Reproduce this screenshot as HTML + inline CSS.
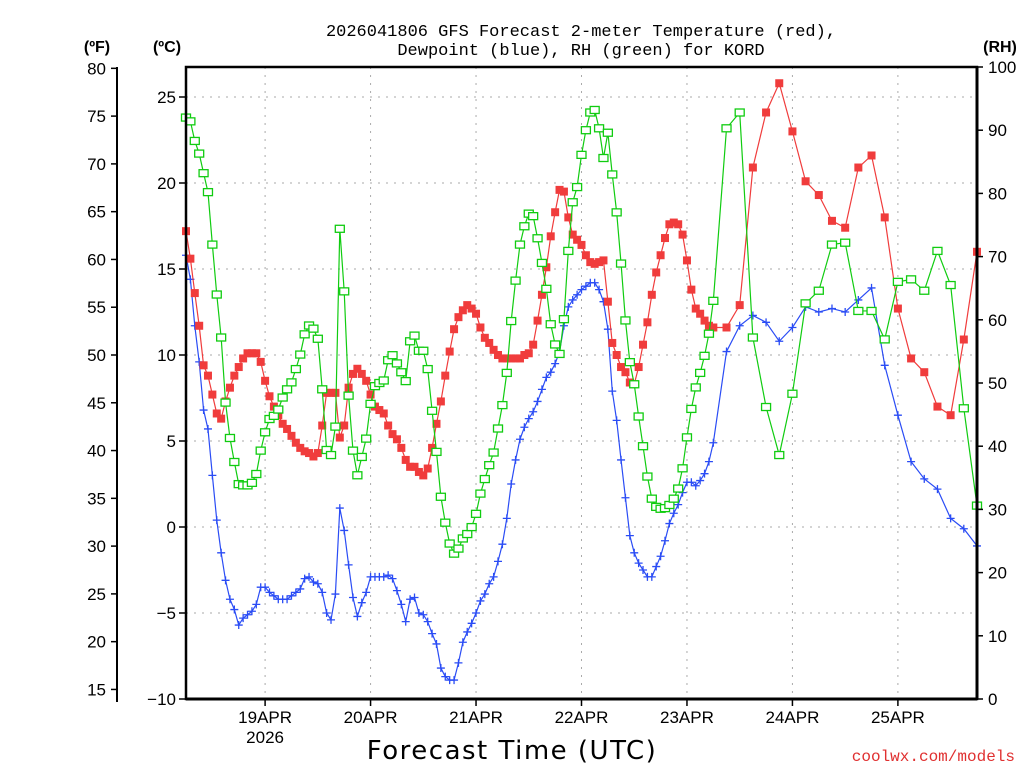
<!DOCTYPE html>
<html><head><meta charset="utf-8"><style>
body{margin:0;background:#fff;}
svg{display:block;font-family:"Liberation Sans",sans-serif;}
</style></head><body>
<svg id="chart" width="1024" height="768" viewBox="0 0 1024 768" xmlns="http://www.w3.org/2000/svg">
<rect width="1024" height="768" fill="#fff"/>
<g id="grid"></g>
<g id="series"></g>
<g id="axes"></g>
<text x="581" y="36" text-anchor="middle" font-family="Liberation Mono, monospace" font-size="17">2026041806 GFS Forecast 2-meter Temperature (red),</text>
<text x="581" y="55" text-anchor="middle" font-family="Liberation Mono, monospace" font-size="17">Dewpoint (blue), RH (green) for KORD</text>
<text x="97" y="52" text-anchor="middle" font-size="16" font-weight="bold">(ºF)</text>
<text x="167" y="52" text-anchor="middle" font-size="16" font-weight="bold">(ºC)</text>
<text x="1000" y="52" text-anchor="middle" font-size="16" font-weight="bold">(RH)</text>
<text x="512" y="759" text-anchor="middle" font-family="DejaVu Sans, sans-serif" font-size="26" letter-spacing="1.5">Forecast Time (UTC)</text>
<text x="1015" y="761" text-anchor="end" font-family="Liberation Mono, monospace" font-size="16" fill="#e03030">coolwx.com/models</text>
</svg>
<script>
const hours = [];
const temps = [17.2,15.6,13.6,11.7,9.4,8.8,7.7,6.6,6.3,7.3,8.1,8.8,9.3,9.8,10.1,10.1,10.1,9.6,8.5,7.6,7.0,6.5,6.0,5.7,5.3,4.9,4.6,4.4,4.3,4.1,4.3,5.9,7.8,7.8,7.8,5.2,5.9,8.1,8.9,9.2,8.9,8.5,7.7,7.0,6.8,6.6,5.9,5.4,5.1,4.6,3.9,3.5,3.5,3.2,3.0,3.4,4.6,6.0,7.3,8.8,10.2,11.5,12.2,12.6,12.9,12.7,12.4,11.6,11.0,10.7,10.3,10.0,9.8,9.8,9.8,9.8,9.8,10.0,10.1,10.6,12.0,13.5,15.1,16.9,18.3,19.6,19.5,18.0,17.0,16.7,16.4,15.8,15.4,15.3,15.4,15.5,13.1,10.7,10.0,9.3,9.0,8.4,8.3,9.3,10.6,11.9,13.5,14.8,15.8,16.8,17.6,17.7,17.6,17.0,15.5,13.8,12.7,12.4,12.0,11.7,11.6,
11.6,12.9,20.9,24.1,25.8,23.0,20.1,19.3,17.8,17.4,20.9,21.6,18.0,12.7,9.8,9.0,7.0,6.5,10.9,16.0];
const dewpoints = [15.8,14.4,11.7,9.6,6.8,5.7,3.0,0.4,-1.5,-3.1,-4.2,-4.8,-5.7,-5.3,-5.1,-4.9,-4.5,-3.5,-3.5,-3.8,-4.0,-4.2,-4.2,-4.2,-4.0,-3.8,-3.6,-3.0,-2.9,-3.2,-3.3,-3.8,-5.0,-5.4,-3.9,1.1,-0.2,-2.2,-4.1,-5.2,-4.4,-3.8,-2.9,-2.9,-2.9,-2.9,-2.8,-3.0,-3.7,-4.5,-5.5,-4.2,-4.1,-5.0,-5.1,-5.5,-6.2,-6.8,-8.2,-8.7,-8.9,-8.9,-7.9,-6.7,-6.1,-5.6,-5.0,-4.3,-3.9,-3.3,-2.9,-2.0,-1.0,0.5,2.5,3.9,5.1,5.8,6.3,6.7,7.3,8.0,8.7,9.0,9.5,10.2,11.7,12.8,13.2,13.5,13.8,14.0,14.2,14.2,13.8,13.1,11.5,7.9,6.2,3.9,1.7,-0.5,-1.5,-2.1,-2.5,-2.9,-2.9,-2.3,-1.7,-0.8,0.2,0.8,1.3,2.0,2.6,2.6,2.4,2.7,3.1,3.8,4.9,
10.2,11.7,12.3,11.9,10.8,11.6,12.8,12.5,12.7,12.5,13.2,13.9,9.4,6.5,3.8,2.8,2.2,0.5,-0.1,-1.1];
const rhValues = [92.0,91.4,88.3,86.3,83.2,80.2,71.9,64.0,57.2,46.9,41.3,37.5,34.0,33.8,33.8,34.2,35.6,39.3,42.2,44.3,44.8,45.8,47.7,49.0,50.1,52.2,54.5,57.7,59.1,58.6,57.0,49.0,39.4,38.6,43.1,74.4,64.5,48.0,39.3,35.4,38.3,41.2,46.7,49.5,50.0,50.4,53.6,54.4,53.1,51.7,50.3,56.6,57.5,55.1,55.1,52.2,45.6,39.1,32.0,27.9,24.6,23.0,23.8,25.4,26.1,27.2,29.3,32.5,34.8,37.0,39.0,42.8,46.5,51.6,59.8,66.2,71.9,74.8,76.8,76.4,72.9,69.0,64.9,59.3,56.1,54.6,60.1,70.9,78.6,81.0,86.1,90.0,92.8,93.2,90.3,85.6,89.6,83.0,77.0,68.9,59.9,53.3,49.8,44.7,40.0,35.2,31.7,30.4,30.1,30.2,30.7,31.7,33.3,36.5,41.4,45.9,49.3,51.6,54.3,57.8,63.0,
90.3,92.8,57.2,46.2,38.6,48.3,62.6,64.6,71.9,72.2,61.4,61.4,56.9,66.0,66.4,64.6,70.9,65.5,46.0,30.6];
for(let h=0;h<=120;h++) hours.push(h);
for(let h=123;h<=180;h+=3) hours.push(h);
const dateLabels = ["19APR","20APR","21APR","22APR","23APR","24APR","25APR"];
const dateHours = [18,42,66,90,114,138,162];
const cTicks = [-10,-5,0,5,10,15,20,25];
const fTicks = [15,20,25,30,35,40,45,50,55,60,65,70,75,80];
const rhTicks = [0,10,20,30,40,50,60,70,80,90,100];

const NS="http://www.w3.org/2000/svg";
const L=186,R=977,T=67,B=699;
const xS=h=>L+(R-L)*h/180;
const yC=c=>527-17.2*c;
const yF=f=>yC((f-32)/1.8);
const yRH=v=>B-(B-T)*v/100;
function mk(tag,attrs,parent,text){const e=document.createElementNS(NS,tag);for(const k in attrs)e.setAttribute(k,attrs[k]);if(text!==undefined)e.textContent=text;parent.appendChild(e);return e;}
const grid=document.getElementById('grid'),axes=document.getElementById('axes'),series=document.getElementById('series');

cTicks.forEach(c=>{const y=yC(c);
 if(c>-10){const g=mk('line',{x1:L,x2:R,y1:y,y2:y,stroke:'#aaa','stroke-dasharray':'2,6'},grid);
 
 }
 mk('line',{x1:L-7,x2:L,y1:y,y2:y,stroke:'#000','stroke-width':1.5},axes);
 const t=mk('text',{x:L-10,y:y+6,'text-anchor':'end','font-size':17},axes,c<0?'\u2212'+(-c):String(c));
 
 
});
fTicks.forEach(f=>{const y=yF(f);
 mk('line',{x1:111,x2:117,y1:y,y2:y,stroke:'#000','stroke-width':1.5},axes);
 const t=mk('text',{x:106,y:y+6,'text-anchor':'end','font-size':17},axes,String(f));
 
 
});
mk('line',{x1:117,x2:117,y1:T,y2:B+3,stroke:'#000','stroke-width':2},axes);
rhTicks.forEach(v=>{const y=yRH(v);
 mk('line',{x1:R,x2:R+6,y1:y,y2:y,stroke:'#000','stroke-width':1.5},axes);
 const t=mk('text',{x:988,y:y+6,'text-anchor':'start','font-size':17},axes,String(v));
 
 
});
dateHours.forEach((h,i)=>{const x=xS(h);
 const g=mk('line',{x1:x,x2:x,y1:T,y2:B,stroke:'#aaa','stroke-dasharray':'2,6'},grid);
 
 
 mk('line',{x1:x,x2:x,y1:B,y2:B+7,stroke:'#000','stroke-width':1.5},axes);
 const t=mk('text',{x:x,y:723,'text-anchor':'middle','font-size':17},axes,dateLabels[i]);
 
 
 if(i===0){const t2=mk('text',{x:x,y:743,'text-anchor':'middle','font-size':17},axes,'2026');
 
 }
});
const frame=mk('path',{d:`M${L},${B} L${L},${T} L${R},${T} L${R},${B} Z`,fill:'none',stroke:'#000','stroke-width':2.5},axes);


mk('line',{x1:R,x2:R,y1:T,y2:B,stroke:'#000','stroke-width':3},axes);
mk('line',{x1:L,x2:R,y1:B,y2:B,stroke:'#000','stroke-width':3},axes);

function drawSeries(vals,yf,color,kind,name){
 const g=mk('g',{},series);
 
 
 const pts=vals.map((v,i)=>[xS(hours[i]),yf(v)]);
 mk('polyline',{points:pts.map(p=>p.join(',')).join(' '),fill:'none',stroke:color,'stroke-width':1.2},g);
 pts.forEach(p=>{let m;
  if(kind==='fill'){m=mk('rect',{x:p[0]-4,y:p[1]-4,width:8,height:8,fill:color},g);}
  else if(kind==='open'){m=mk('rect',{x:p[0]-4.5,y:p[1]-3.5,width:9,height:7,fill:'#fff',stroke:color,'stroke-width':1.3},g);}
  else {m=mk('path',{d:`M${p[0]-4},${p[1]} h8 M${p[0]},${p[1]-4} v8`,stroke:color,'stroke-width':1.3},g);}
  
  
 });
}
drawSeries(dewpoints,yC,'#2a4cf5','plus','dewpoint-series');
drawSeries(temps,yC,'#f03c3c','fill','temperature-series');
drawSeries(rhValues,yRH,'#10cc10','open','rh-series');
</script>
</body></html>
